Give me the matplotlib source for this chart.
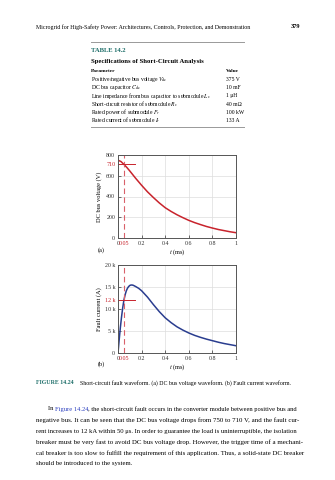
import numpy as np
import matplotlib.pyplot as plt

plt.rcParams['font.family'] = ['Liberation Serif', 'DejaVu Serif']
plt.rcParams['mathtext.fontset'] = 'stix'

# DC bus voltage after the fault (V)
t_v = [0, 0.025, 0.05, 0.075, 0.1, 0.15, 0.2, 0.25, 0.3, 0.35, 0.4, 0.45,
       0.5, 0.55, 0.6, 0.65, 0.7, 0.75, 0.8, 0.85, 0.9, 0.95, 1.0]
v_bus = [750, 737, 710, 680, 646, 575, 508, 445, 390, 338, 292, 256,
         224, 196, 170, 148, 129, 111, 96, 82, 71, 60, 51]

# fault current (A)
t_i = [0, 0.01, 0.02, 0.03, 0.04, 0.05, 0.06, 0.07, 0.08, 0.09, 0.1, 0.11,
       0.12, 0.13, 0.15, 0.175, 0.2, 0.25, 0.3, 0.35, 0.4, 0.45, 0.5,
       0.55, 0.6, 0.65, 0.7, 0.75, 0.8, 0.85, 0.9, 0.95, 1.0]
i_fault = [0, 3000, 5800, 8200, 10300, 12000, 13200, 14100, 14700, 15100,
           15350, 15450, 15450, 15380, 15100, 14700, 14150, 12700, 11000,
           9400, 8000, 6900, 5950, 5200, 4550, 4000, 3550, 3150, 2800,
           2450, 2150, 1900, 1650]

t_mark = 0.05
v_mark = 710
i_mark = 12000

table_rows = [
    (r"Positive/negative bus voltage $V_{\mathrm{dc}}$", "375 V"),
    (r"DC bus capacitor $C_{\mathrm{dc}}$", "10 mF"),
    (r"Line impedance from bus capacitor to submodule $L_s$", "1 μH"),
    (r"Short-circuit resistor of submodule $R_s$", "40 mΩ"),
    (r"Rated power of submodule $P_r$", "100 kW"),
    (r"Rated current of submodule $I_r$", "133 A"),
]

# paragraph lines; each line is a list of (text, colour) pieces
LINK = '#2b3fbf'
body = [
    [("In ", 'k'), ("Figure 14.24", LINK),
     (", the short-circuit fault occurs in the converter module between positive bus and", 'k')],
    [("negative bus. It can be seen that the DC bus voltage drops from 750 to 710 V, and the fault cur-", 'k')],
    [("rent increases to 12 kA within 50 μs. In order to guarantee the load is uninterruptible, the isolation", 'k')],
    [("breaker must be very fast to avoid DC bus voltage drop. However, the trigger time of a mechani-", 'k')],
    [("cal breaker is too slow to fulfill the requirement of this application. Thus, a solid-state DC breaker", 'k')],
    [("should be introduced to the system.", 'k')],
]

W, H = 335, 480
RED = '#c8232c'
RED_L = '#d9606a'
BLUE = '#2a3d8f'
TEAL = '#1f6f6a'

fig = plt.figure(figsize=(W / 100, H / 100), dpi=100)
renderer = fig.canvas.get_renderer()


def fx(px):
    return px / W


def fy(py):
    return 1 - py / H


def width_of(s, size, **kw):
    t = fig.text(0, 0, s, fontsize=size, **kw)
    w = t.get_window_extent(renderer).width
    t.remove()
    return w


def fit_size(s, target, guess=5.0, **kw):
    # small sizes do not scale linearly, so refine a few times
    size = guess
    for _ in range(4):
        size *= target / width_of(s, size, **kw)
    return size


def pieces_line(pieces, x0, y, size):
    x = x0
    for s, c in pieces:
        fig.text(fx(x), fy(y), s, fontsize=size, color=c, va='center')
        x += width_of(s.replace(" ", "\u00a0"), size)


# running head
head = "Microgrid for High-Safety Power: Architectures, Controls, Protection, and Demonstration"
fig.text(fx(36), fy(27), head, fontsize=fit_size(head, 216), va='center')
fig.text(fx(300), fy(27), "379", fontsize=4.6, fontweight='bold', va='center', ha='right')

# table
fig.add_artist(plt.Line2D([fx(91), fx(244)], [fy(42), fy(42)], color='#999999', lw=0.7))
fig.add_artist(plt.Line2D([fx(91), fx(244)], [fy(127), fy(127)], color='#999999', lw=0.7))
fig.text(fx(91), fy(51), "TABLE 14.2", fontsize=fit_size("TABLE 14.2", 36, fontweight='bold'),
         fontweight='bold', color=TEAL, va='center')
title = "Specifications of Short-Circuit Analysis"
fig.text(fx(91), fy(61), title, fontsize=fit_size(title, 112, fontweight='bold'),
         fontweight='bold', va='center')
fig.text(fx(91), fy(71), "Parameter", fontsize=3.9, fontweight='bold', va='center')
fig.text(fx(226), fy(71), "Value", fontsize=3.9, fontweight='bold', va='center')
row_size = fit_size("Line impedance from bus capacitor to submodule L", 118)
for k, (name, val) in enumerate(table_rows):
    yy = 79.5 + 8.2 * k
    fig.text(fx(91), fy(yy), name, fontsize=row_size, va='center')
    fig.text(fx(226), fy(yy), val, fontsize=row_size, va='center')


def style(ax):
    ax.set_xlim(0, 1)
    ax.grid(True, color='#dddddd', lw=0.5)
    ax.set_axisbelow(True)
    for s in ax.spines.values():
        s.set_color('#555555')
        s.set_linewidth(0.7)
    ax.tick_params(direction='in', length=2, width=0.5, labelsize=4.3, pad=2, colors='#333333')
    ax.set_xticks([0, 0.2, 0.4, 0.6, 0.8, 1.0])
    ax.set_xticklabels(["0", "0.2", "0.4", "0.6", "0.8", "1"])
    ax.set_xticks([t_mark], ["0.05"], minor=True)
    ax.tick_params(axis='x', which='minor', length=0, labelsize=4.3, labelcolor=RED, pad=2)
    ax.axvline(t_mark, color=RED_L, lw=0.8, ls=(0, (5, 3)))
    ax.set_xlabel(r"$t$ (ms)", fontsize=4.6, labelpad=1)


# (a) DC bus voltage
ax1 = fig.add_axes([fx(118), fy(238), fx(118), 83 / H])
ax1.plot(t_v, v_bus, color=RED, lw=1.1)
style(ax1)
ax1.set_ylim(0, 800)
ax1.set_yticks([0, 200, 400, 600, 800])
ax1.set_yticks([v_mark], ["710"], minor=True)
ax1.tick_params(axis='y', which='minor', length=0, labelsize=4.3, labelcolor=RED, pad=2)
ax1.plot([0, 0.14], [v_mark, v_mark], color=RED, lw=0.7)
ax1.set_ylabel("DC bus voltage (V)", fontsize=4.6, labelpad=3)
fig.text(fx(98), fy(250), "(a)", fontsize=4.6, va='center')

# (b) fault current
ax2 = fig.add_axes([fx(118), fy(353), fx(118), 88 / H])
ax2.plot(t_i, i_fault, color=BLUE, lw=1.1)
style(ax2)
ax2.set_ylim(0, 20000)
ax2.set_yticks([0, 5000, 10000, 15000, 20000], ["0", "5 k", "10 k", "15 k", "20 k"])
ax2.set_yticks([i_mark], ["12 k"], minor=True)
ax2.tick_params(axis='y', which='minor', length=0, labelsize=4.3, labelcolor=RED, pad=2)
ax2.plot([0, 0.14], [i_mark, i_mark], color=RED, lw=0.7)
ax2.set_ylabel("Fault current (A)", fontsize=4.6, labelpad=2)
fig.text(fx(98), fy(364), "(b)", fontsize=4.6, va='center')

# caption
cap = "Short-circuit fault waveform. (a) DC bus voltage waveform. (b) Fault current waveform."
fig.text(fx(36), fy(383), "FIGURE 14.24", fontsize=fit_size("FIGURE 14.24", 38, fontweight='bold'),
         fontweight='bold', color=TEAL, va='center')
fig.text(fx(80), fy(383), cap, fontsize=fit_size(cap, 212), va='center')

# body text, each full line sized to span the text block
x_left, x_right = 36, 299
sizes = []
for k, line in enumerate(body[:-1]):
    x0 = 48 if k == 0 else x_left
    sizes.append(fit_size("".join(s for s, _ in line), x_right - x0))
for k, line in enumerate(body):
    x0 = 48 if k == 0 else x_left
    size = sizes[k] if k < len(sizes) else float(np.mean(sizes))
    pieces_line(line, x0, 409 + 11 * k, size)

fig.savefig("out.png", dpi=100)
